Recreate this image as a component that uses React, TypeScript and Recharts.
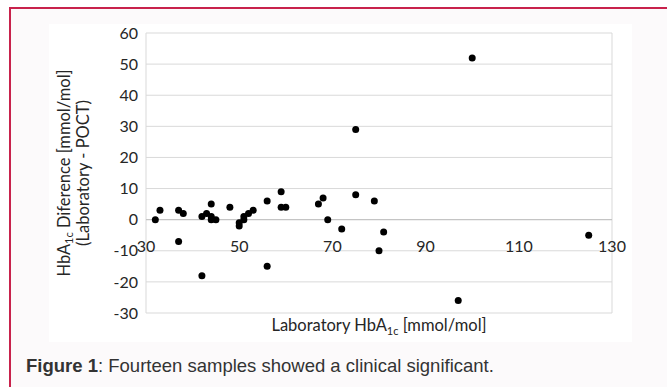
import {
  ScatterChart,
  Scatter,
  XAxis,
  YAxis,
  CartesianGrid,
  ReferenceLine,
  ReferenceDot,
  Label,
} from 'recharts';

// Laboratory HbA1c (x) vs difference Laboratory - POCT (y)
const labValues = [
  32, 33, 37, 38, 37, 42, 43, 44, 44, 44, 45, 42, 48, 50, 50, 51, 51, 52,
  53, 56, 56, 59, 59, 60, 67, 68, 69, 72, 75, 75, 79, 80, 81, 97, 100, 125,
];
const diffValues = [
  0, 3, 3, 2, -7, 1, 2, 5, 1, 0, 0, -18, 4, -1, -2, 0, 1, 2,
  3, 6, -15, 9, 4, 4, 5, 7, 0, -3, 29, 8, 6, -10, -4, -26, 52, -5,
];
const xTicks = [30, 50, 70, 90, 110, 130];
const yTicks = [-30, -20, -10, 0, 10, 20, 30, 40, 50, 60];

const data = labValues.map((x, i) => ({ x, y: diffValues[i] }));

const FONT = 'Lato, "Open Sans", sans-serif';
const TEXT = '#262626';

const YLabel = (props: any) => {
  const vb = props.viewBox || {};
  const cy = vb.y + vb.height / 2;
  const x1 = vb.x + 15;
  const x2 = vb.x + 34;
  return (
    <g fontFamily={FONT} fontSize={16.5} fill={TEXT}>
      <text x={x1} y={cy} textAnchor="middle" dominantBaseline="central" transform={`rotate(-90 ${x1} ${cy})`}>
        HbA<tspan fontSize={11} dy={4}>1c</tspan>
        <tspan dy={-4}> Diference [mmol/mol]</tspan>
      </text>
      <text x={x2} y={cy} textAnchor="middle" dominantBaseline="central" transform={`rotate(-90 ${x2} ${cy})`}>
        (Laboratory - POCT)
      </text>
    </g>
  );
};

const XLabel = (props: any) => {
  const vb = props.viewBox || {};
  const cx = vb.x + vb.width / 2;
  return (
    <text x={cx} y={vb.y + 18} textAnchor="middle" fontFamily={FONT} fontSize={16.5} fill={TEXT}>
      Laboratory HbA<tspan fontSize={11} dy={4}>1c</tspan>
      <tspan dy={-4}> [mmol/mol]</tspan>
    </text>
  );
};

export default function App() {
  return (
    <div style={{ position: 'absolute', left: 0, top: 0, width: 667, height: 387, background: '#fff', overflow: 'hidden' }}>
      <div
        style={{
          position: 'absolute',
          left: 9,
          top: 7,
          width: 658,
          height: 380,
          boxSizing: 'border-box',
          background: '#fcfafb',
          borderTop: '2px solid #c8224c',
          borderLeft: '2px solid #c8224c',
        }}
      />
      <div style={{ position: 'absolute', left: 49, top: 24, width: 583, height: 318, background: '#fff' }}>
        <ScatterChart width={583} height={318} margin={{ top: 9, right: 20, bottom: 0, left: 0 }}>
          <CartesianGrid stroke="#d9d9d9" />
          <XAxis
            type="number"
            dataKey="x"
            domain={[30, 130]}
            ticks={xTicks}
            tick={false}
            axisLine={false}
            tickLine={false}
            height={29}
            label={<Label content={XLabel} />}
          />
          <YAxis
            type="number"
            dataKey="y"
            domain={[-30, 60]}
            ticks={yTicks}
            width={97}
            axisLine={false}
            tickLine={false}
            tickSize={0}
            tickMargin={8}
            tick={{ fontFamily: FONT, fontSize: 16, fill: TEXT }}
            label={<Label content={YLabel} />}
          />
          <ReferenceLine y={0} stroke="#bfbfbf" strokeWidth={1} />
          {xTicks.map((t) => (
            <ReferenceDot
              key={t}
              x={t}
              y={0}
              r={0}
              ifOverflow="visible"
              shape={(p: any) => (
                <text x={p.cx} y={p.cy + 32} textAnchor="middle" fontFamily={FONT} fontSize={16} fill={TEXT}>
                  {t}
                </text>
              )}
            />
          ))}
          <Scatter
            data={data}
            isAnimationActive={false}
            shape={(p: any) => <circle cx={p.cx} cy={p.cy} r={3.5} fill="#000" />}
          />
        </ScatterChart>
      </div>
      <div
        style={{
          position: 'absolute',
          left: 26,
          top: 357,
          fontFamily: '"Liberation Sans", Arial, sans-serif',
          fontSize: 18.5,
          lineHeight: '18px',
          color: '#333',
          whiteSpace: 'nowrap',
        }}
      >
        <b>Figure 1</b>: Fourteen samples showed a clinical significant.
      </div>
    </div>
  );
}
